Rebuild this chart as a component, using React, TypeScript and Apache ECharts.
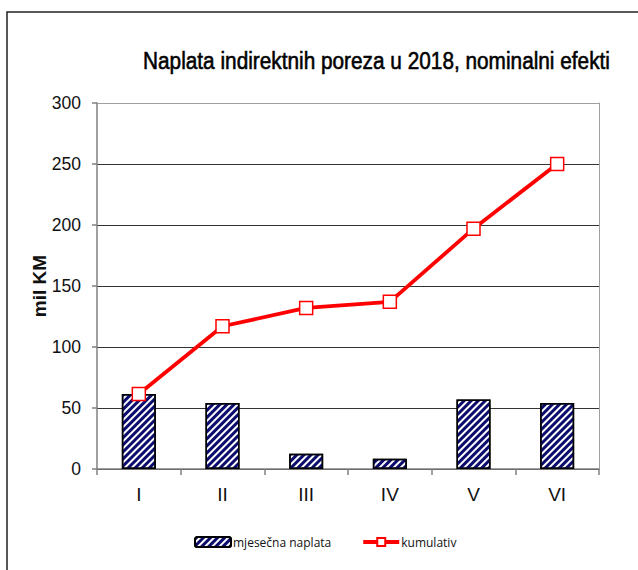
import React, { useEffect, useRef } from "react";
import * as echarts from "echarts";

const categories = ["I", "II", "III", "IV", "V", "VI"];
const monthlyValues = [61.5, 54, 12.5, 8.5, 57, 54];
const cumulativeValues = [61.5, 117, 132, 137, 197, 250];
const yMin = 0;
const yMax = 300;
const yInterval = 50;
const titleText = "Naplata indirektnih poreza u 2018, nominalni efekti";
const yAxisName = "mil KM";
const seriesNames = ["mjesečna naplata", "kumulativ"];

export default function App() {
  const ref = useRef<HTMLDivElement>(null);
  useEffect(() => {
    if (!ref.current) return;
    const chart = echarts.init(ref.current, undefined, { renderer: "svg" });
    chart.setOption({
      animation: false,
      backgroundColor: "#ffffff",
      graphic: [
        {
          type: "rect",
          z: -10,
          shape: { x: 7, y: 12, width: 700, height: 700 },
          style: { fill: "none", stroke: "#222", lineWidth: 1.5 },
        },
        {
          type: "text",
          x: 143,
          y: 61,
          scaleX: 1,
          scaleY: 1.15,
          style: {
            text: titleText,
            fontFamily: "'Liberation Sans', Arial, sans-serif",
            fontSize: 20.8,
            fill: "#000",
            stroke: "#000",
            lineWidth: 0.5,
            textAlign: "left",
            textVerticalAlign: "middle",
          },
        },
      ],
      legend: {
        left: 189,
        top: 531,
        itemWidth: 36,
        itemHeight: 10,
        itemGap: 30,
        textStyle: {
          fontFamily: "'Open Sans', sans-serif",
          fontSize: 12,
          color: "#111",
          padding: [0, 0, 0, -3],
        },
        data: [
          { name: seriesNames[0] },
          { name: seriesNames[1], lineStyle: { width: 4, color: "#ff0000" } },
        ],
      },
      grid: { left: 97, right: 39, top: 103, bottom: 101 },
      xAxis: {
        type: "category",
        data: categories,
        boundaryGap: true,
        axisLine: { lineStyle: { color: "#808080", width: 1.5 } },
        axisTick: { show: true, length: 6, interval: 0, lineStyle: { color: "#808080", width: 1.5 } },
        axisLabel: {
          fontFamily: "'Liberation Sans', Arial, sans-serif",
          fontSize: 19,
          color: "#111",
          margin: 16,
        },
      },
      yAxis: [
        {
          type: "value",
          min: yMin,
          max: yMax,
          interval: yInterval,
          name: yAxisName,
          nameLocation: "middle",
          nameGap: 48,
          nameMoveOverlap: false,
          nameTextStyle: {
            fontFamily: "'Liberation Sans', Arial, sans-serif",
            fontSize: 19,
            fontWeight: "bold",
            color: "#111",
          },
          axisLine: { show: true, lineStyle: { color: "#808080", width: 1.5 } },
          axisTick: { show: true, length: 5, lineStyle: { color: "#808080", width: 1.5 } },
          axisLabel: {
            fontFamily: "'Liberation Sans', Arial, sans-serif",
            fontSize: 17.5,
            color: "#111",
            margin: 16,
          },
          splitLine: {
            show: true,
            lineStyle: {
              color: ["#333", "#333", "#333", "#333", "#333", "#333", "#a0a0a0"],
              width: 1,
            },
          },
        },
        {
          type: "value",
          min: yMin,
          max: yMax,
          interval: yInterval,
          position: "right",
          axisLine: { show: true, lineStyle: { color: "#a0a0a0", width: 1 } },
          axisTick: { show: false },
          axisLabel: { show: false },
          splitLine: { show: false },
        },
      ],
      series: [
        {
          name: seriesNames[0],
          type: "bar",
          data: monthlyValues,
          barWidth: 34,
          itemStyle: {
            color: "#ffffff",
            borderColor: "#000",
            borderWidth: 1.5,
            decal: {
              symbol: "rect",
              color: "#0c0c6e",
              dashArrayX: [1, 0],
              dashArrayY: [2.2, 1.8],
              rotation: -Math.PI / 4,
              symbolSize: 1,
            },
          },
        },
        {
          name: seriesNames[1],
          type: "line",
          data: cumulativeValues,
          symbol: "rect",
          symbolSize: 13,
          lineStyle: { color: "#ff0000", width: 3.8 },
          itemStyle: { color: "#ffffff", borderColor: "#ff0000", borderWidth: 1.5 },
          z: 5,
        },
      ],
    });
    return () => chart.dispose();
  }, []);
  return (
    <div
      ref={ref}
      style={{ position: "fixed", left: 0, top: 0, width: 638, height: 570 }}
    />
  );
}
